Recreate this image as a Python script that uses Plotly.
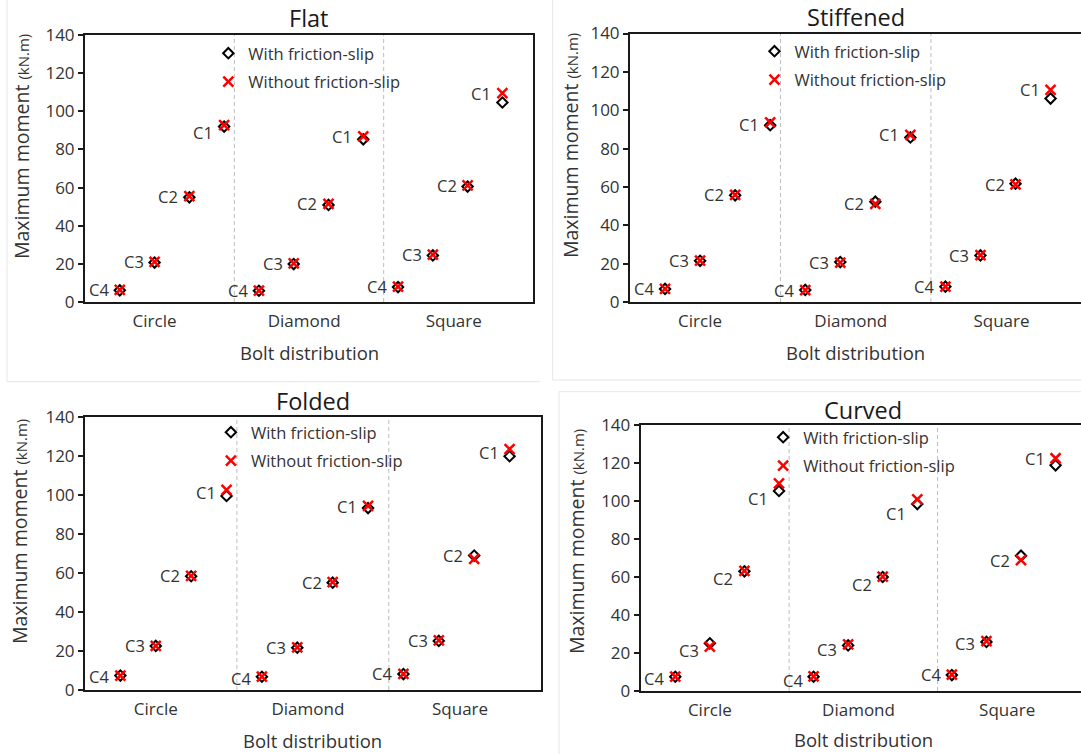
import plotly.graph_objects as go

W, H = 1081, 754

categories = ["Circle", "Diamond", "Square"]
connections = ["C4", "C3", "C2", "C1"]
series_names = ["With friction-slip", "Without friction-slip"]
panel_titles = ["Flat", "Stiffened", "Folded", "Curved"]
y_ticks = [0, 20, 40, 60, 80, 100, 120, 140]

# Maximum moment (kN.m); within each bolt distribution the order is C4, C3, C2, C1
flat_with = [6.1, 20.7, 54.9, 92.0, 5.9, 19.9, 50.9, 85.3, 7.8, 24.4, 60.5, 104.6]
flat_without = [6.3, 21.0, 55.5, 92.8, 6.0, 20.3, 51.5, 86.9, 8.0, 24.8, 61.2, 109.5]
stiffened_with = [6.8, 21.5, 55.6, 92.2, 6.3, 20.8, 52.3, 85.8, 8.0, 24.3, 61.7, 106.1]
stiffened_without = [6.9, 21.6, 55.8, 93.6, 6.2, 20.5, 51.2, 87.2, 8.0, 24.4, 61.3, 110.6]
folded_with = [7.4, 22.6, 58.4, 99.6, 6.8, 21.7, 55.1, 93.4, 8.2, 25.2, 69.0, 120.0]
folded_without = [7.4, 22.6, 58.6, 102.7, 6.9, 21.9, 55.4, 94.5, 8.3, 25.5, 67.3, 123.7]
curved_with = [7.5, 25.1, 63.0, 105.3, 7.5, 24.0, 60.0, 98.4, 8.4, 25.8, 71.2, 118.8]
curved_without = [7.6, 23.3, 63.2, 109.3, 7.7, 24.5, 60.2, 100.9, 8.6, 26.2, 68.9, 122.5]

values_with = [flat_with, stiffened_with, folded_with, curved_with]
values_without = [flat_without, stiffened_without, folded_without, curved_without]

# ---- layout geometry (pixels on the 1081 x 754 page) ----
X_SPAN = 12.88          # width of the category axis in point slots
CAT_START, CAT_STEP = 2.0, 4.3   # slot positions of the category captions
FONT = "Open Sans"
TXT = "#333333"
AXIS = "#1a1a1a"

geometry = [
    # plot box (left, right, top, bottom), title y, y-title x/y, x-title y,
    # legend first-row y, label drops (px)
    dict(box=(85, 533, 35, 302), title_y=18, yt=(21, 147), xt_y=352, leg_y=53,
         drop=[0, 0, 0, 7, 0, 0, 0, 0, 0, 0, 0, 0]),
    dict(box=(630, 1081.4, 33.5, 302), title_y=17, yt=(570, 146), xt_y=352, leg_y=51,
         drop=[0, 0, 0, 2, 0, 0, 0, 0, 0, 0, 0, 0]),
    dict(box=(85, 540.7, 417.3, 690), title_y=401, yt=(19, 532), xt_y=740, leg_y=432,
         drop=[1, 0, 0, 3, 2, 0, 0, 1, 0, 0, -3, 3]),
    dict(box=(640.7, 1086, 425, 691), title_y=410, yt=(576, 542), xt_y=739, leg_y=437,
         drop=[2, 4, 8, 15, 4, 5, 8, 14, 0, 2, 0, 0]),
]

# faint outlines of the individual chart areas (paper pixels)
area_edges = [
    (7, 0, 7, 381.7), (7, 381.7, 540, 381.7),
    (552.7, 0, 552.7, 380), (552.7, 380, W, 380),
    (559, 391.7, 559, H), (559, 391.7, W, 391.7),
]


def px(x):
    return x / W


def py(y):
    return 1 - y / H


fig = go.Figure()
layout = dict(width=W, height=H,
              margin=dict(l=0, r=0, t=0, b=0, pad=0, autoexpand=False),
              paper_bgcolor="white", plot_bgcolor="white",
              font=dict(family=FONT, color=TXT), showlegend=True)
shapes, annotations = [], []

x_slots = [c * 4 + k + 1 for c in range(len(categories)) for k in range(len(connections))]
point_names = connections * len(categories)

for i, g in enumerate(geometry):
    n = i + 1
    sfx = "" if n == 1 else str(n)
    xref, yref = "x" + sfx, "y" + sfx
    lg = "legend" if n == 1 else "legend" + str(n)
    left, right, top, bottom = g["box"]
    vis_right = min(right, W)
    unit = (right - left) / X_SPAN
    x_hi = (vis_right - left) / unit
    box_closed = right <= W

    layout["xaxis" + sfx] = dict(
        domain=[px(left), px(vis_right)], range=[0, x_hi], anchor=yref,
        showgrid=False, zeroline=False, showline=True, linecolor=AXIS, linewidth=2,
        mirror=True, ticks="outside", ticklen=3, tickcolor="rgba(0,0,0,0)",
        tickvals=[CAT_START + CAT_STEP * c for c in range(len(categories))],
        ticktext=categories,
        tickfont=dict(size=17, color=TXT, family=FONT), fixedrange=True)
    layout["yaxis" + sfx] = dict(
        domain=[py(bottom), py(top)], range=[0, 140], anchor=xref,
        showgrid=False, zeroline=False, showline=True, linecolor=AXIS, linewidth=2,
        mirror=box_closed, ticks="outside", ticklen=5, tickwidth=1.5, tickcolor=AXIS,
        tickvals=y_ticks, tickfont=dict(size=17, color=TXT, family=FONT), fixedrange=True)

    # dashed separators between bolt distributions
    for k in (1, 2):
        shapes.append(dict(type="line", xref=xref, yref=yref + " domain",
                           x0=X_SPAN * k / 3, x1=X_SPAN * k / 3, y0=0, y1=1, layer="below",
                           line=dict(color="#BDBDBD", width=1, dash="4px,3px")))

    sep_px = left + unit * X_SPAN / 3
    layout[lg] = dict(x=px(sep_px - 26), y=py(g["leg_y"] - 17), xanchor="left", yanchor="top",
                      bgcolor="rgba(0,0,0,0)", borderwidth=0, traceorder="grouped",
                      tracegroupgap=4, itemwidth=30,
                      font=dict(size=16.5, color=TXT, family=FONT))

    fig.add_trace(go.Scatter(
        x=x_slots, y=values_with[i], mode="markers", name=series_names[0],
        xaxis=xref, yaxis=yref, legend=lg, legendgroup="with" + sfx, cliponaxis=False,
        marker=dict(symbol="diamond", size=8, color="white", line=dict(color="black", width=2))))
    fig.add_trace(go.Scatter(
        x=x_slots, y=values_without[i], mode="markers", name=series_names[1],
        xaxis=xref, yaxis=yref, legend=lg, legendgroup="without" + sfx, cliponaxis=False,
        marker=dict(symbol="x-thin", size=10, color="#FF0000",
                    line=dict(color="#FF0000", width=2.5))))

    for xv, yv, name, d in zip(x_slots, values_without[i], point_names, g["drop"]):
        annotations.append(dict(x=xv, y=yv, xref=xref, yref=yref, text=name, showarrow=False,
                                xanchor="right", yanchor="middle", xshift=-9, yshift=-d,
                                font=dict(size=16.5, color=TXT, family=FONT)))

    cx = px((left + right) / 2)
    annotations.append(dict(x=cx, y=py(g["title_y"]), xref="paper", yref="paper",
                            text=panel_titles[i], showarrow=False, xanchor="center",
                            yanchor="middle", font=dict(size=23.5, color="#1a1a1a", family=FONT)))
    annotations.append(dict(x=cx, y=py(g["xt_y"]), xref="paper", yref="paper",
                            text="Bolt distribution", showarrow=False, xanchor="center",
                            yanchor="middle", font=dict(size=18.5, color=TXT, family=FONT)))
    annotations.append(dict(x=px(g["yt"][0]), y=py(g["yt"][1]), xref="paper", yref="paper",
                            text="Maximum moment <span style='font-size:15px'>(kN.m)</span>",
                            showarrow=False, textangle=-90, xanchor="center", yanchor="middle",
                            font=dict(size=19.5, color=TXT, family=FONT)))

for x0, y0, x1, y1 in area_edges:
    shapes.append(dict(type="line", xref="paper", yref="paper", x0=px(x0), y0=py(y0),
                       x1=px(x1), y1=py(y1), layer="below",
                       line=dict(color="#E6E6E6", width=1)))

layout["shapes"] = shapes
layout["annotations"] = annotations
fig.update_layout(**layout)

fig.write_html("out.html")
